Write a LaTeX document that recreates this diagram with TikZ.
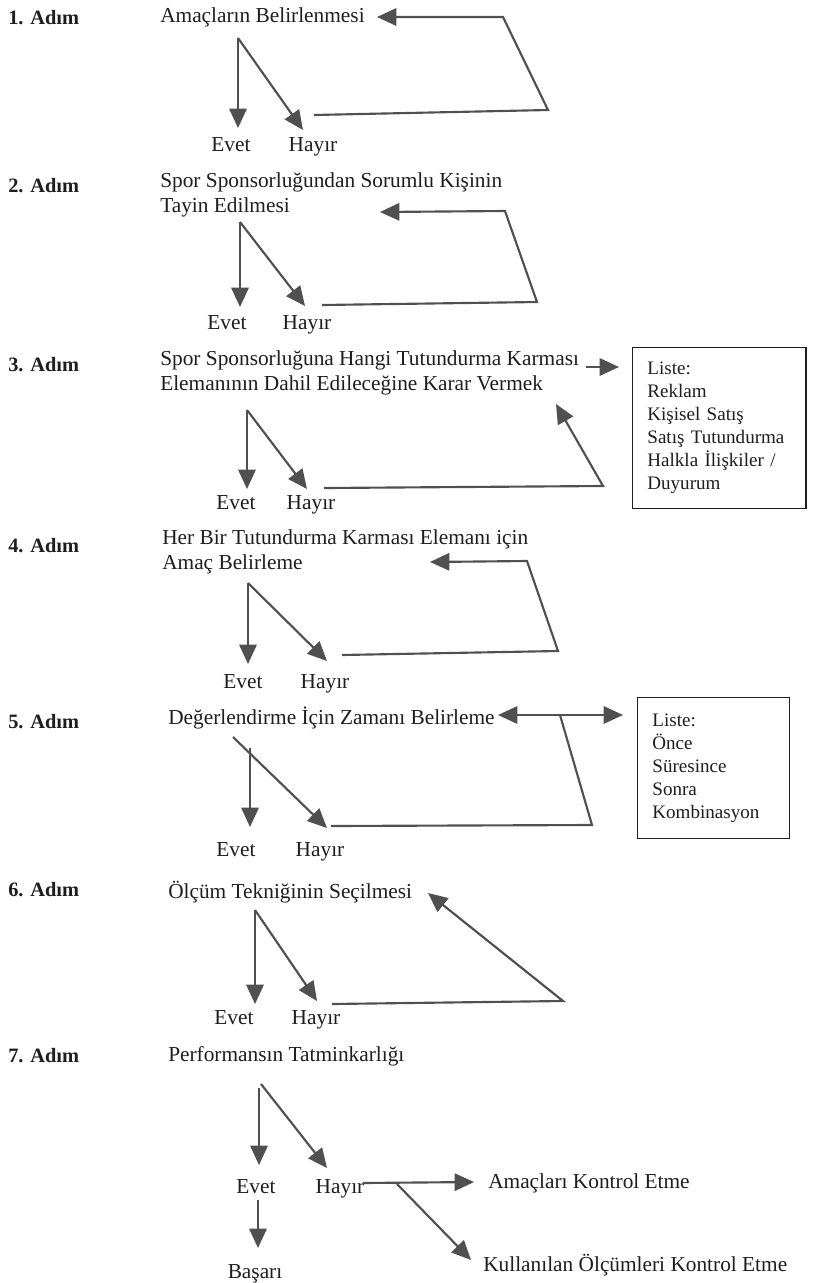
\documentclass[tikz,border=0pt]{standalone}
\usepackage{fontspec}
\setmainfont{Liberation Serif}
\usetikzlibrary{arrows.meta}
\definecolor{lc}{HTML}{505050}
\definecolor{tc}{HTML}{1E1E1E}
\begin{document}
\begin{tikzpicture}[x=0.75pt,y=-0.75pt,
  lbl/.style={font=\fontsize{15.3}{18}\selectfont\bfseries, anchor=west, inner sep=0pt, text=tc},
  ttl/.style={font=\fontsize{16}{18.8}\selectfont, anchor=west, inner sep=0pt, align=left, text=tc},
  yn/.style={font=\fontsize{16}{18}\selectfont, inner sep=0pt, text=tc, text height=1.6ex, text depth=0.45ex, yshift=-2.25pt},
  lst/.style={font=\fontsize{14.3}{17.25}\selectfont, draw=tc, line width=1.1pt, align=left, anchor=north west, text=tc, inner xsep=11pt},
  arr/.style={draw=lc, line width=1.6pt, -{Triangle[length=14.5pt,width=13pt]}},
  darr/.style={draw=lc, line width=1.6pt, {Triangle[length=14.5pt,width=13pt]}-{Triangle[length=14.5pt,width=13pt]}},
  ln/.style={draw=lc, line width=1.6pt, line join=miter},
]
\useasboundingbox (0,0) rectangle (819,1283);
\fill[white] (0,0) rectangle (819,1283);

% ---------- Step 1
\node[lbl] (a1) at (8,18) {1. Adım};
\node[ttl] (t1) at (160,17) {Amaçların Belirlenmesi};
\coordinate (o1) at (238,38);
\coordinate (ev1) at (238,128);
\coordinate (hv1) at (303,130);
\node[yn] (e1) at (231,145) {Evet};
\node[yn] (h1) at (313,145) {Hayır};
\coordinate (f1a) at (314,115);
\coordinate (f1b) at (548,110);
\coordinate (f1c) at (503,17);
\coordinate (f1d) at (377,17);
\draw[arr] (o1) -- (ev1);
\draw[arr] (o1) -- (hv1);
\draw[arr] (f1a) -- (f1b) -- (f1c) -- (f1d);

% ---------- Step 2
\node[lbl] (a2) at (8,186) {2. Adım};
\node[ttl] (t2) at (160,195) {Spor Sponsorluğundan Sorumlu Kişinin\\Tayin Edilmesi};
\coordinate (o2) at (240,222);
\coordinate (ev2) at (240,307);
\coordinate (hv2) at (305,306);
\node[yn] (e2) at (227,323) {Evet};
\node[yn] (h2) at (307,323) {Hayır};
\coordinate (f2a) at (322,305);
\coordinate (f2b) at (537,302);
\coordinate (f2c) at (505,211);
\coordinate (f2d) at (380,212);
\draw[arr] (o2) -- (ev2);
\draw[arr] (o2) -- (hv2);
\draw[arr] (f2a) -- (f2b) -- (f2c) -- (f2d);

% ---------- Step 3
\node[lbl] (a3) at (8,365) {3. Adım};
\node[ttl] (t3) at (160,373) {Spor Sponsorluğuna Hangi Tutundurma Karması\\Elemanının Dahil Edileceğine Karar Vermek};
\coordinate (k3a) at (586,367);
\coordinate (k3b) at (619,367);
\node[lst, text width=108pt, minimum height=120.75pt] (b3) at (632,347)
  {Liste:\\Reklam\\Kişisel Satış\\Satış Tutundurma\\Halkla İlişkiler /\\Duyurum};
\draw[arr] (k3a) -- (k3b);
\coordinate (o3) at (247,410);
\coordinate (ev3) at (247,489);
\coordinate (hv3) at (307,489);
\node[yn] (e3) at (236,503) {Evet};
\node[yn] (h3) at (311,503) {Hayır};
\coordinate (f3a) at (324,488);
\coordinate (f3b) at (603,486);
\coordinate (f3c) at (556,404);
\draw[arr] (o3) -- (ev3);
\draw[arr] (o3) -- (hv3);
\draw[arr] (f3a) -- (f3b) -- (f3c);

% ---------- Step 4
\node[lbl] (a4) at (8,546) {4. Adım};
\node[ttl] (t4) at (162,552) {Her Bir Tutundurma Karması Elemanı için\\Amaç Belirleme};
\coordinate (o4) at (248,583);
\coordinate (ev4) at (248,664);
\coordinate (hv4) at (327,661);
\node[yn] (e4) at (243,682) {Evet};
\node[yn] (h4) at (325,682) {Hayır};
\coordinate (f4a) at (342,655);
\coordinate (f4b) at (558,651);
\coordinate (f4c) at (527,561);
\coordinate (f4d) at (430,562);
\draw[arr] (o4) -- (ev4);
\draw[arr] (o4) -- (hv4);
\draw[arr] (f4a) -- (f4b) -- (f4c) -- (f4d);

% ---------- Step 5
\node[lbl] (a5) at (8,722) {5. Adım};
\node[ttl] (t5) at (168,718) {Değerlendirme İçin Zamanı Belirleme};
\coordinate (d5a) at (498,715);
\coordinate (d5b) at (623,715);
\coordinate (j5) at (560,715);
\node[lst, text width=92pt, minimum height=105.75pt] (b5) at (637,697)
  {Liste:\\Önce\\Süresince\\Sonra\\Kombinasyon};
\draw[darr] (d5a) -- (d5b);
\coordinate (o5) at (233,737);
\coordinate (v5) at (250,748);
\coordinate (ev5) at (250,827);
\coordinate (hv5) at (327,828);
\node[yn] (e5) at (236,850) {Evet};
\node[yn] (h5) at (320,850) {Hayır};
\coordinate (f5a) at (331,826);
\coordinate (f5b) at (592,825);
\draw[arr] (v5) -- (ev5);
\draw[arr] (o5) -- (hv5);
\draw[ln] (f5a) -- (f5b) -- (j5);

% ---------- Step 6
\node[lbl] (a6) at (8,890) {6. Adım};
\node[ttl] (t6) at (168,892) {Ölçüm Tekniğinin Seçilmesi};
\coordinate (o6) at (255,910);
\coordinate (ev6) at (255,1004);
\coordinate (hv6) at (317,1001);
\node[yn] (e6) at (234,1018) {Evet};
\node[yn] (h6) at (316,1018) {Hayır};
\coordinate (f6a) at (332,1004);
\coordinate (f6b) at (563,1001);
\coordinate (f6c) at (428,893);
\draw[arr] (o6) -- (ev6);
\draw[arr] (o6) -- (hv6);
\draw[arr] (f6a) -- (f6b) -- (f6c);

% ---------- Step 7
\node[lbl] (a7) at (8,1056) {7. Adım};
\node[ttl] (t7) at (168,1056) {Performansın Tatminkarlığı};
\coordinate (o7) at (261,1084);
\coordinate (v7) at (259,1088);
\coordinate (ev7) at (259,1165);
\coordinate (hv7) at (327,1168);
\node[yn] (e7) at (256,1187) {Evet};
\node[yn] (h7) at (340,1187) {Hayır};
\node[ttl] (c1) at (488,1183) {Amaçları Kontrol Etme};
\node[ttl] (c2) at (483,1265) {Kullanılan Ölçümleri Kontrol Etme};
\node[yn] (s7) at (255,1272) {Başarı};
\coordinate (h7e) at (363,1183);
\coordinate (c1t) at (474,1182);
\coordinate (m7) at (397,1184);
\coordinate (c2t) at (471,1260);
\coordinate (e7s) at (258,1200);
\coordinate (s7t) at (258,1248);
\draw[arr] (v7) -- (ev7);
\draw[arr] (o7) -- (hv7);
\draw[arr] (h7e) -- (c1t);
\draw[arr] (m7) -- (c2t);
\draw[arr] (e7s) -- (s7t);
\end{tikzpicture}
\end{document}
